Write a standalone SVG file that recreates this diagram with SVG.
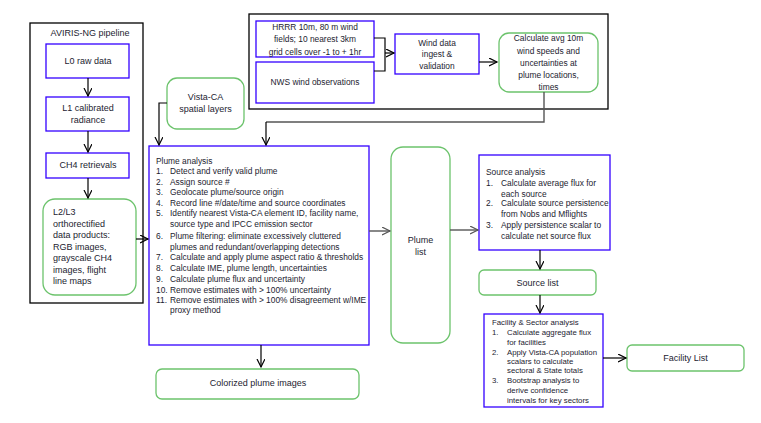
<svg xmlns="http://www.w3.org/2000/svg" width="761" height="423" viewBox="0 0 761 423">
<style>
text{font-family:"Liberation Sans",Arial,sans-serif;fill:#1c1c30;font-size:9px}
.c{text-anchor:middle}
.blk{fill:none;stroke:#000;stroke-width:1.3}
.blue{fill:#fff;stroke:#3300ff;stroke-width:1.3}
.green{fill:#fff;stroke:#6cc36c;stroke-width:1.3}
.ln{fill:none;stroke:#000;stroke-width:1.2}
.gl{fill:none;stroke:#555;stroke-width:1.4}
.s{font-size:8.4px}
.xs{font-size:7.8px}
</style>
<defs>
<marker id="a" markerWidth="10" markerHeight="10" refX="8" refY="4" orient="auto" markerUnits="userSpaceOnUse">
<path d="M0,0 L8,4 L0,8" fill="none" stroke="#000" stroke-width="1.2"/>
</marker>
<marker id="ag" markerWidth="10" markerHeight="10" refX="8" refY="4" orient="auto" markerUnits="userSpaceOnUse">
<path d="M0,0 L8,4 L0,8" fill="none" stroke="#555" stroke-width="1.2"/>
</marker>
</defs>
<rect width="761" height="423" fill="#fff"/>
<g id="aviris-pipeline">
<rect class="blk" x="30" y="23" width="113" height="280"/>
<text class="c" x="90" y="36">AVIRIS-NG pipeline</text>
</g>
<g id="wind-group">
<rect class="blk" x="249" y="14" width="359" height="95"/>
</g>
<g id="l0"><rect class="blue" x="46" y="44" width="83" height="34"/><text class="c" x="88" y="64">L0 raw data</text></g>
<g id="l1"><rect class="blue" x="46" y="97" width="83" height="34"/><text class="c" x="88" y="111">L1 calibrated</text><text class="c" x="88" y="123">radiance</text></g>
<g id="ch4"><rect class="blue" x="46" y="153" width="83" height="25"/><text class="c" x="88" y="168">CH4 retrievals</text></g>
<g id="l2l3"><rect class="green" x="43" y="199" width="93" height="96" rx="12"/>
<text x="53" y="215">L2/L3</text><text x="53" y="226.5">orthorectified</text><text x="53" y="238">data  products:</text><text x="53" y="249.5">RGB images,</text><text x="53" y="261">grayscale CH4</text><text x="53" y="272.5">images, flight</text><text x="53" y="284">line maps</text></g>
<g id="vista"><rect class="green" x="167" y="78" width="77" height="51" rx="10"/><text class="c" x="205.5" y="100">Vista-CA</text><text class="c" x="205.5" y="112">spatial layers</text></g>
<g id="hrrr"><rect class="blue" x="256" y="21" width="118" height="36"/><text class="c s" x="315" y="30">HRRR 10m, 80 m wind</text><text class="c s" x="315" y="42">fields; 10 nearest 3km</text><text class="c s" x="315" y="55">grid cells over -1 to + 1hr</text></g>
<g id="nws"><rect class="blue" x="256" y="62" width="118" height="41"/><text class="c s" x="315" y="85">NWS wind observations</text></g>
<g id="wind-ingest"><rect class="blue" x="395" y="34" width="84" height="40"/><text class="c s" x="437" y="46">Wind data</text><text class="c s" x="437" y="57">ingest &amp;</text><text class="c s" x="437" y="69">validation</text></g>
<g id="calc-wind"><rect class="green" x="499" y="33" width="99" height="59" rx="10"/><text class="c s" x="548.5" y="41">Calculate avg 10m</text><text class="c s" x="548.5" y="54">wind speeds and</text><text class="c s" x="548.5" y="66">uncertainties at</text><text class="c s" x="548.5" y="78">plume locations,</text><text class="c s" x="548.5" y="90">times</text></g>
<g id="plume-analysis"><rect class="blue" x="149" y="146" width="220" height="199"/>
<text x="156" y="164" class="s">Plume analysis</text>
<text x="156" y="174" class="s">1.</text><text x="170" y="174" class="s">Detect and verify valid plume</text>
<text x="156" y="185" class="s">2.</text><text x="170" y="185" class="s">Assign source #</text>
<text x="156" y="195" class="s">3.</text><text x="170" y="195" class="s">Geolocate plume/source origin</text>
<text x="156" y="205.5" class="s">4.</text><text x="170" y="205.5" class="s">Record line #/date/time and source coordinates</text>
<text x="156" y="216" class="s">5.</text><text x="170" y="216" class="s">Identify nearest Vista-CA element ID, facility name,</text>
<text x="170" y="227" class="s">source type and IPCC emission sector</text>
<text x="156" y="238.5" class="s">6.</text><text x="170" y="238.5" class="s">Plume filtering: eliminate excessively cluttered</text>
<text x="170" y="249.5" class="s">plumes and redundant/overlapping detections</text>
<text x="156" y="260" class="s">7.</text><text x="170" y="260" class="s">Calculate and apply plume aspect ratio &amp; thresholds</text>
<text x="156" y="271" class="s">8.</text><text x="170" y="271" class="s">Calculate IME, plume length, uncertainties</text>
<text x="156" y="282" class="s">9.</text><text x="170" y="282" class="s">Calculate plume flux and uncertainty</text>
<text x="156" y="293" class="s">10.</text><text x="170" y="293" class="s">Remove estimates with &gt; 100% uncertainty</text>
<text x="156" y="302.5" class="s">11.</text><text x="170" y="302.5" class="s">Remove estimates with &gt; 100% disagreement w/IME</text>
<text x="170" y="313" class="s">proxy method</text>
</g>
<g id="colorized"><rect class="green" x="156" y="369" width="203" height="30" rx="6"/><text class="c" x="258" y="386">Colorized plume images</text></g>
<g id="plume-list"><rect class="green" x="391" y="147" width="59" height="196" rx="12"/><text class="c" x="420.5" y="243">Plume</text><text class="c" x="420.5" y="255">list</text></g>
<g id="source-analysis"><rect class="blue" x="479" y="155" width="131" height="95"/>
<text x="486" y="175" class="s">Source analysis</text>
<text x="486" y="186" class="s">1.</text><text x="501" y="186" class="s">Calculate average flux for</text>
<text x="501" y="197" class="s">each source</text>
<text x="486" y="206" class="s">2.</text><text x="501" y="206" class="s">Calculate source persistence</text>
<text x="501" y="217" class="s">from Nobs and Mflights</text>
<text x="486" y="228" class="s">3.</text><text x="501" y="228" class="s">Apply persistence scalar to</text>
<text x="501" y="239" class="s">calculate net source flux</text>
</g>
<g id="source-list"><rect class="green" x="479" y="270" width="117" height="25" rx="5"/><text class="c" x="537.5" y="285.5">Source list</text></g>
<g id="facility-analysis"><rect class="blue" x="484" y="314" width="119" height="93"/>
<text x="492" y="325" class="xs">Facility &amp; Sector analysis</text>
<text x="492" y="335" class="xs">1.</text><text x="507" y="335" class="xs">Calculate aggregate flux</text>
<text x="507" y="344.5" class="xs">for facilities</text>
<text x="492" y="354.5" class="xs">2.</text><text x="507" y="354.5" class="xs">Apply Vista-CA population</text>
<text x="507" y="363.5" class="xs">scalars to calculate</text>
<text x="507" y="372.5" class="xs">sectoral &amp; State totals</text>
<text x="492" y="382.5" class="xs">3.</text><text x="507" y="382.5" class="xs">Bootstrap analysis to</text>
<text x="507" y="392.5" class="xs">derive confidence</text>
<text x="507" y="402.5" class="xs">intervals for key sectors</text>
</g>
<g id="facility-list"><rect class="green" x="627" y="345" width="117" height="26" rx="5"/><text class="c" x="685.5" y="361">Facility List</text></g>
<g id="connectors">
<path class="ln" d="M88,78 V96" marker-end="url(#a)"/>
<path class="ln" d="M88,131 V152" marker-end="url(#a)"/>
<path class="ln" d="M88,178 V198" marker-end="url(#a)"/>
<path class="ln" d="M136,239 H148" marker-end="url(#a)"/>
<path class="ln" d="M167,103 H159 V145" marker-end="url(#a)"/>
<path class="ln" d="M374,38 H385 V71 H374"/>
<path class="ln" d="M385,53 H394" marker-end="url(#a)"/>
<path class="ln" d="M479,62 H497" marker-end="url(#a)"/>
<path class="gl" d="M544,92 V122 H266"/>
<path class="ln" d="M266,122 V145" marker-end="url(#a)"/>
<path class="gl" d="M369,231 H390" marker-end="url(#ag)"/>
<path class="gl" d="M450,230 H478" marker-end="url(#ag)"/>
<path class="ln" d="M540,250 V269" marker-end="url(#a)"/>
<path class="ln" d="M540,295 V313" marker-end="url(#a)"/>
<path class="ln" d="M603,358 H626" marker-end="url(#a)"/>
<path class="ln" d="M261,345 V367" marker-end="url(#a)"/>
</g>
</svg>
